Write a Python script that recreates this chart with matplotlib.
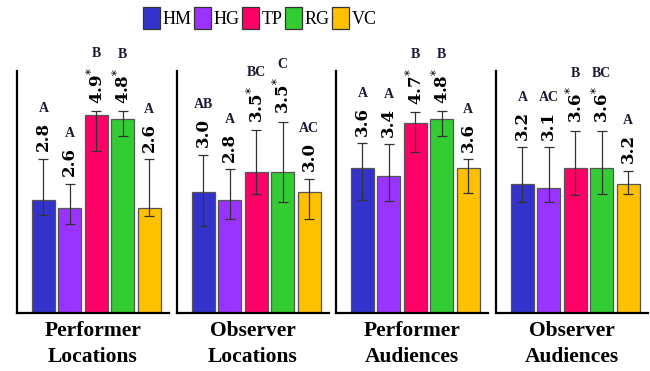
import matplotlib
matplotlib.use("Agg")
import matplotlib.pyplot as plt
from matplotlib.patches import Patch

plt.rcParams["mathtext.fontset"] = "dejavuserif"

conditions = ["HM", "HG", "TP", "RG", "VC"]
colors = ["#3333CC", "#9933FF", "#FF0066", "#33CC33", "#FFC000"]
panel_titles = ["Performer\nLocations", "Observer\nLocations",
                "Performer\nAudiences", "Observer\nAudiences"]

# mean ratings per panel (HM, HG, TP, RG, VC)
perf_loc = [2.8, 2.6, 4.9, 4.8, 2.6]
obs_loc = [3.0, 2.8, 3.5, 3.5, 3.0]
perf_aud = [3.6, 3.4, 4.7, 4.8, 3.6]
obs_aud = [3.2, 3.1, 3.6, 3.6, 3.2]
means = [perf_loc, obs_loc, perf_aud, obs_aud]

# interval bounds (lower, upper)
lower = [[2.42, 2.21, 4.02, 4.39, 2.40],
         [2.16, 2.34, 2.95, 2.76, 2.34],
         [2.79, 2.78, 4.00, 4.38, 2.98],
         [2.74, 2.74, 2.93, 2.95, 2.95]]
upper = [[3.82, 3.20, 5.00, 5.00, 3.81],
         [3.92, 3.56, 4.53, 4.74, 3.33],
         [4.21, 4.18, 4.98, 5.00, 3.81],
         [4.11, 4.11, 4.51, 4.51, 3.52]]

# significance marks and group letters
starred = [[False, False, True, True, False]] * 4
groups = [["A", "A", "B", "B", "A"],
          ["AB", "A", "BC", "C", "AC"],
          ["A", "A", "B", "B", "A"],
          ["A", "AC", "B", "BC", "A"]]

W, H, DPI = 6.5, 3.71, 100
fig = plt.figure(figsize=(W, H), dpi=DPI)

serif = "Liberation Serif"
num_font = "DejaVu Serif"
left_px = [17, 177, 336, 496]
ax_w_px = 152
ax_bottom = (371 - 313) / 371
ax_height = (313 - 71) / 371

axes = []
value_texts = []
for p in range(4):
    ax = fig.add_axes([left_px[p] / 650, ax_bottom, ax_w_px / 650, ax_height])
    axes.append(ax)
    xs = list(range(len(conditions)))
    m = means[p]
    yerr = [[m[i] - lower[p][i] for i in xs], [upper[p][i] - m[i] for i in xs]]
    ax.bar(xs, m, width=0.87, color=colors, edgecolor="#555555", linewidth=0.9,
           zorder=2)
    ax.errorbar(xs, m, yerr=yerr, fmt="none", ecolor="#333333", elinewidth=0.9,
                capsize=3.5, capthick=0.9, zorder=3)
    ax.set_xlim(-1.0, 4.75)
    ax.set_ylim(0, 6)
    for s in ("top", "right"):
        ax.spines[s].set_visible(False)
    for s in ("left", "bottom"):
        ax.spines[s].set_linewidth(1.6)
        ax.spines[s].set_color("black")
    ax.set_xticks([])
    ax.set_yticks([])
    ax.patch.set_alpha(0)
    row = []
    for i in xs:
        lab = f"{m[i]:.1f}" + ("$^{*}$" if starred[p][i] else "")
        t = ax.annotate(lab, xy=(i, upper[p][i]), xytext=(0, 5.5),
                        textcoords="offset points", rotation=90,
                        ha="center", va="bottom", fontsize=12,
                        fontfamily=num_font, fontweight="bold", color="black")
        row.append(t)
    value_texts.append(row)
    ax.text(0.5, -0.035, panel_titles[p], transform=ax.transAxes, ha="center",
            va="top", fontsize=15.5, fontfamily=serif, fontweight="bold",
            linespacing=1.4)

fig.canvas.draw()
renderer = fig.canvas.get_renderer()
for p, ax in enumerate(axes):
    for i, t in enumerate(value_texts[p]):
        bb = t.get_window_extent(renderer)
        y_anchor = ax.transData.transform((i, upper[p][i]))[1]
        off_pt = (bb.y1 - y_anchor) * 72 / DPI + 5
        ax.annotate(groups[p][i], xy=(i, upper[p][i]), xytext=(0, off_pt),
                    textcoords="offset points", ha="center", va="bottom",
                    fontsize=10, fontfamily=serif, fontweight="bold",
                    color="#1a1a33")

handles = [Patch(facecolor=c, edgecolor="#333333", linewidth=0.9) for c in colors]
fig.legend(handles, conditions, loc="upper center", bbox_to_anchor=(0.4, 1.01),
           ncol=5, frameon=False, prop={"family": serif, "size": 13},
           handlelength=0.95, handleheight=1.45, handletextpad=0.15,
           columnspacing=0.12, borderaxespad=0.2)

fig.savefig("out.png", dpi=DPI)
